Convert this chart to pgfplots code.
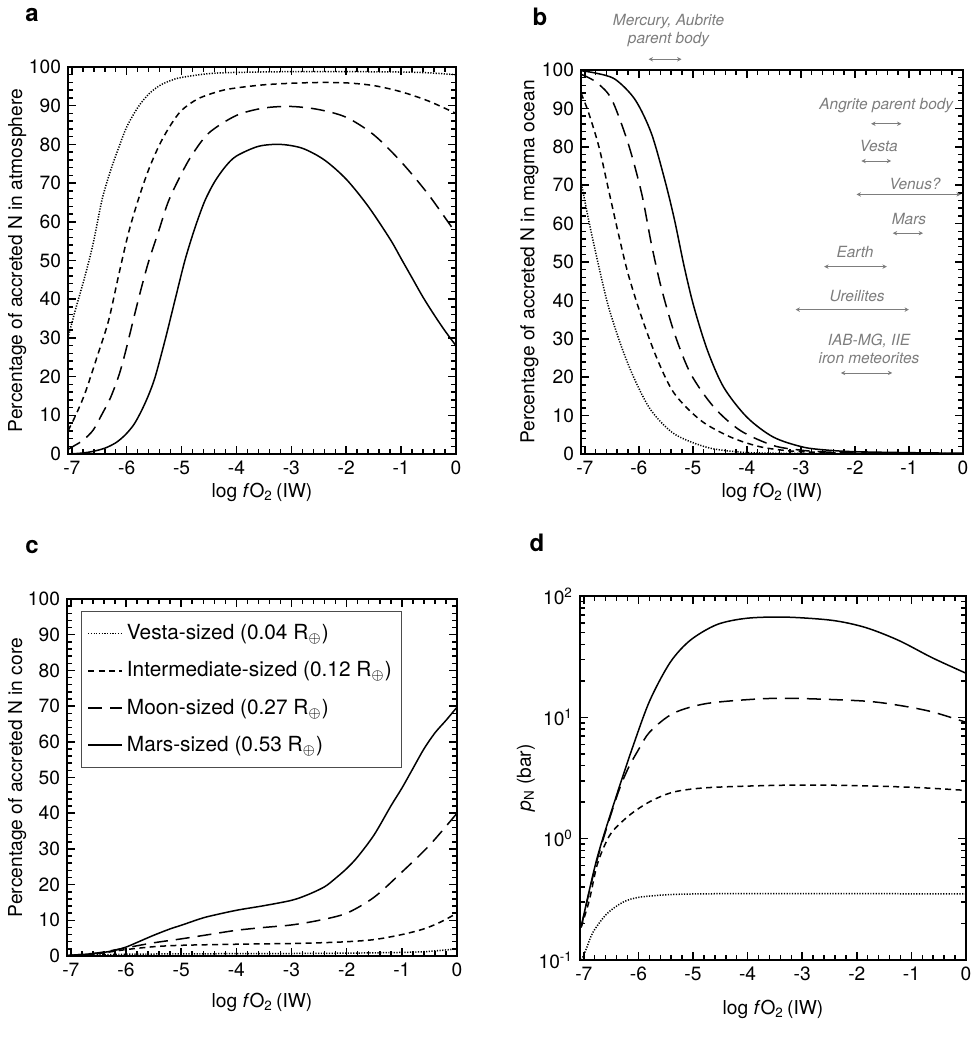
\documentclass[border=0pt]{standalone}
\usepackage{pgfplots}
\pgfplotsset{compat=1.18}
\usepackage{fontspec}
\setmainfont{TeX Gyre Heros}
\usetikzlibrary{arrows.meta}
\definecolor{annot}{RGB}{125,125,125}
\tikzset{
  arr/.style={annot, line width=0.4pt, {Stealth[length=2.2pt,width=2.2pt]}-{Stealth[length=2.2pt,width=2.2pt]}},
  ann/.style={annot, font=\fontsize{7.7}{9}\selectfont\itshape, align=center},
  vesta/.style={dash pattern=on 0.6pt off 0.75pt, line width=0.75pt},
  inter/.style={dash pattern=on 3pt off 2.2pt},
  moon/.style={dash pattern=on 7pt off 4pt},
  mars/.style={solid},
}
\pgfplotsset{
  myax/.style={
    scale only axis,
    axis line style={line width=0.7pt, black},
    tick style={black, line width=0.75pt},
    major tick length=4pt,
    minor tick length=2.4pt,
    xmin=-7.07, xmax=0,
    xtick={-7,-6,-5,-4,-3,-2,-1,0},
    xticklabels={-7,-6,-5,-4,-3,-2,-1,0},
    minor x tick num=4,
    tick label style={font=\fontsize{9.6}{11}\selectfont},
    label style={font=\fontsize{9.6}{11}\selectfont},
    /pgf/number format/assume math mode=true,
    xlabel={log \textit{f}O\textsubscript{2}\,(IW)},
  },
  pct/.style={ymin=0, ymax=100, ytick={0,10,...,100}, minor y tick num=4},
}
\begin{document}
\begin{tikzpicture}
\useasboundingbox (0,0) rectangle (488pt,-525pt);
% ---------------- panel a
\node at (16pt,-7.5pt) {\bfseries\fontsize{12}{14}\selectfont a};
\begin{axis}[myax, pct, at={(34pt,-227pt)}, anchor=south west, width=194pt, height=193.5pt,
  ylabel={Percentage of accreted N in atmosphere},
  ylabel style={at={(axis description cs:-0.131,0.5)}, anchor=center},
  xlabel style={at={(axis description cs:0.5,-0.10)}, anchor=center}]
\addplot[black, line width=0.75pt, vesta, smooth] coordinates {(-7.07,30) (-6.94,37) (-6.76,46) (-6.61,54.5) (-6.45,65.7) (-6.3,73) (-6.15,79) (-6,84.5) (-5.8,89.5) (-5.6,93) (-5.4,95.2) (-5.2,96.5) (-5,97.3) (-4.5,98.3) (-4,98.6) (-3,98.8) (-2,98.8) (-1,98.7) (-0.5,98.5) (0,98)};
\addplot[black, line width=0.75pt, inter, smooth] coordinates {(-7.07,6) (-6.94,9.7) (-6.76,15.7) (-6.52,26) (-6.33,34.5) (-6.15,46) (-5.97,57) (-5.79,65.7) (-5.6,73.5) (-5.4,80) (-5.2,85) (-5,88.8) (-4.7,91.8) (-4.3,93.8) (-4,94.6) (-3.5,95.4) (-3,95.8) (-2.5,96) (-2,95.9) (-1.5,95.2) (-1,93.6) (-0.5,91.2) (0,88)};
\addplot[black, line width=0.75pt, moon, smooth] coordinates {(-7.07,1.2) (-6.9,2.6) (-6.79,3.6) (-6.61,6.2) (-6.45,10.3) (-6.3,14.4) (-6.15,20) (-6.03,26) (-5.79,39.8) (-5.61,49.3) (-5.42,57.5) (-5.24,65.3) (-5,72.5) (-4.8,77.5) (-4.5,83) (-4,87.5) (-3.5,89.4) (-3,89.8) (-2.5,89) (-2,87) (-1.5,82.5) (-1,75.5) (-0.5,67) (0,57)};
\addplot[black, line width=0.75pt, mars, smooth] coordinates {(-7.07,0) (-6.85,0.2) (-6.64,0.6) (-6.4,1.5) (-6.2,2.9) (-6.03,4.9) (-5.87,7.6) (-5.73,11.2) (-5.6,15.3) (-5.48,20) (-5.3,29.5) (-5.12,39.8) (-4.94,50) (-4.76,58.3) (-4.58,65.3) (-4.4,70.3) (-4.2,74.3) (-4,77) (-3.6,79.5) (-3.2,80) (-2.8,79) (-2.4,76) (-2,71) (-1.6,64) (-1.2,55.5) (-1,50.5) (-0.8,45.5) (-0.6,40.5) (-0.4,36) (-0.2,31.8) (0,28)};
\end{axis}
% ---------------- panel b
\node at (270pt,-8.5pt) {\bfseries\fontsize{12}{14}\selectfont b};
\begin{axis}[myax, pct, at={(290.5pt,-227pt)}, anchor=south west, width=191pt, height=192pt, clip=false,
  ylabel={Percentage of accreted N in magma ocean},
  ylabel style={at={(axis description cs:-0.135,0.5)}, anchor=center},
  xlabel style={at={(axis description cs:0.5,-0.10)}, anchor=center}]
\addplot[black, line width=0.75pt, vesta, smooth] coordinates {(-7.07,71) (-6.93,61) (-6.74,48.8) (-6.56,38.3) (-6.32,27.9) (-6.07,19.2) (-5.77,11.3) (-5.34,5.2) (-4.73,1.7) (-4.12,0.5) (-3.5,0.2) (-2,0.05) (0,0.02)};
\addplot[black, line width=0.75pt, inter, smooth] coordinates {(-7.07,94) (-6.93,88.9) (-6.74,80.1) (-6.56,68.8) (-6.38,57.5) (-6.2,47) (-5.95,35.7) (-5.65,24.4) (-5.34,15.7) (-4.85,8.7) (-4.3,4.4) (-3.76,1.9) (-3.2,0.8) (-2.5,0.35) (-1.5,0.15) (0,0.05)};
\addplot[black, line width=0.75pt, moon, smooth] coordinates {(-7.07,98.9) (-6.9,97.8) (-6.74,96.3) (-6.5,92.3) (-6.2,81) (-5.95,68) (-5.77,54.9) (-5.59,43.6) (-5.34,31.4) (-5.04,20.9) (-4.61,12.2) (-4.12,6.1) (-3.51,2.2) (-3,1.0) (-2.5,0.5) (-1.5,0.2) (0,0.08)};
\addplot[black, line width=0.75pt, mars, smooth] coordinates {(-7.07,99.8) (-6.8,99.2) (-6.44,97.6) (-6.07,92.3) (-5.77,83.6) (-5.52,71.4) (-5.34,61) (-5.16,48.8) (-4.98,38.3) (-4.73,27) (-4.43,17.4) (-4,9.6) (-3.51,4.4) (-2.96,1.8) (-2.5,1.0) (-2,0.6) (-1,0.35) (0,0.2)};
% annotations
\node[ann] at (axis cs:-5.45,110.2) {Mercury, Aubrite\\parent body};
\draw[arr] (axis cs:-5.82,102.8) -- (axis cs:-5.21,102.8);
\node[ann] at (axis cs:-1.42,90.8) {Angrite parent body};
\draw[arr] (axis cs:-1.70,86.0) -- (axis cs:-1.14,86.0);
\node[ann] at (axis cs:-1.56,80.1) {Vesta};
\draw[arr] (axis cs:-1.88,76.3) -- (axis cs:-1.33,76.3);
\node[ann] at (axis cs:-0.89,70.4) {Venus?};
\draw[arr] (axis cs:-1.97,67.6) -- (axis cs:-0.04,67.6);
\node[ann] at (axis cs:-1.0,61.2) {Mars};
\draw[arr] (axis cs:-1.30,57.5) -- (axis cs:-0.74,57.5);
\node[ann] at (axis cs:-2.0,52.7) {Earth};
\draw[arr] (axis cs:-2.57,48.8) -- (axis cs:-1.41,48.8);
\node[ann] at (axis cs:-1.96,41.1) {Ureilites};
\draw[arr] (axis cs:-3.10,37.6) -- (axis cs:-1.0,37.6);
\node[ann] at (axis cs:-1.74,27.5) {IAB-MG, IIE\\iron meteorites};
\draw[arr] (axis cs:-2.26,21.1) -- (axis cs:-1.31,21.1);
\end{axis}
% ---------------- panel c
\node at (16pt,-273.5pt) {\bfseries\fontsize{12}{14}\selectfont c};
\begin{axis}[myax, pct, at={(33.5pt,-478pt)}, anchor=south west, width=195pt, height=178.5pt,
  ylabel={Percentage of accreted N in core},
  ylabel style={at={(axis description cs:-0.128,0.5)}, anchor=center},
  xlabel style={at={(axis description cs:0.5,-0.13)}, anchor=center},
  legend style={at={(axis description cs:0.036,0.966)}, anchor=north west, draw=black!70, line width=0.4pt,
    font=\fontsize{10.4}{12}\selectfont, row sep=5.5pt, inner xsep=3pt, inner ysep=4.5pt, cells={anchor=west}},
  legend image code/.code={\draw[#1] (0pt,0pt) -- (17pt,0pt);}]
\addplot[black, line width=0.75pt, vesta, smooth] coordinates {(-7.07,0.05) (-7,0.1) (-6.5,0.3) (-6,0.5) (-5,0.6) (-4,0.65) (-3,0.7) (-2,0.8) (-1,1.0) (-0.5,1.3) (0,2)};
\addlegendentry{Vesta-sized (0.04 R$_{\oplus}$)}
\addplot[black, line width=0.75pt, inter, smooth] coordinates {(-7.07,0.05) (-7,0.1) (-6.5,0.7) (-6,1.8) (-5.5,2.6) (-5,3) (-4,3.3) (-3,3.5) (-2.5,3.7) (-2,4.0) (-1.5,4.6) (-1,6.0) (-0.6,7.6) (-0.3,9.5) (0,12)};
\addlegendentry{Intermediate-sized (0.12 R$_{\oplus}$)}
\addplot[black, line width=0.75pt, moon, smooth] coordinates {(-7.07,0.1) (-7,0.2) (-6.5,0.9) (-6,2.3) (-5.5,3.7) (-5,4.8) (-4.5,6) (-4,7.2) (-3.5,8) (-3,8.7) (-2.5,10) (-2,12) (-1.5,16.5) (-1,23.5) (-0.5,31) (0,40)};
\addlegendentry{Moon-sized (0.27 R$_{\oplus}$)}
\addplot[black, line width=0.75pt, mars, smooth] coordinates {(-7.07,0.1) (-7,0.2) (-6.5,0.8) (-6.2,1.6) (-6,2.5) (-5.8,3.8) (-5.5,5.8) (-5.2,7.6) (-5,8.6) (-4.7,10.2) (-4.5,11.1) (-4,12.8) (-3.5,14.1) (-3,15.6) (-2.7,17.2) (-2.4,19.4) (-2.2,21.8) (-2,24.5) (-1.8,27.8) (-1.5,34) (-1.2,42) (-1,47) (-0.8,52.5) (-0.6,58) (-0.4,62.5) (-0.2,66) (0,69.7)};
\addlegendentry{Mars-sized (0.53 R$_{\oplus}$)}
\end{axis}
% ---------------- panel d
\node at (268.5pt,-271.5pt) {\bfseries\fontsize{12}{14}\selectfont d};
\begin{axis}[myax, at={(290pt,-480pt)}, anchor=south west, width=193pt, height=182pt,
  ymode=log, ymin=0.1, ymax=100, ytick={0.1,1,10,100},
  yticklabels={10\textsuperscript{-1},10\textsuperscript{0},10\textsuperscript{1},10\textsuperscript{2}},
  ylabel={\textit{p}\textsubscript{N} (bar)},
  ylabel style={at={(axis description cs:-0.14,0.5)}, anchor=center},
  xlabel style={at={(axis description cs:0.5,-0.135)}, anchor=center}]
\addplot[black, line width=0.75pt, vesta, smooth] coordinates {(-7.04,0.1) (-6.95,0.125) (-6.83,0.17) (-6.58,0.24) (-6.28,0.3) (-5.97,0.33) (-5.36,0.347) (-4.5,0.352) (-3,0.353) (-1.5,0.352) (0,0.35)};
\addplot[black, line width=0.75pt, inter, smooth] coordinates {(-7.05,0.186) (-6.9,0.31) (-6.76,0.6) (-6.6,0.92) (-6.46,1.17) (-6.15,1.58) (-5.79,2.02) (-5.36,2.42) (-4.75,2.63) (-3.5,2.75) (-2.5,2.76) (-1.5,2.7) (-0.75,2.62) (0,2.5)};
\addplot[black, line width=0.75pt, moon, smooth] coordinates {(-7.05,0.186) (-6.76,0.66) (-6.4,2.2) (-6.2,3.7) (-6.0,5.4) (-5.79,7.6) (-5.36,10.8) (-4.75,13) (-3.77,14.2) (-3.05,14.3) (-1.84,13.6) (-1.2,12.5) (-0.62,11.1) (0,9.1)};
\addplot[black, line width=0.75pt, mars, smooth] coordinates {(-7.05,0.186) (-6.76,0.685) (-6.4,2.28) (-6.09,5.95) (-5.79,13.8) (-5.42,28.3) (-5.05,43.2) (-4.56,58.2) (-4.01,65.6) (-3.3,67) (-2.45,63) (-1.84,55) (-1.23,43) (-0.62,31) (0,23.1)};
\end{axis}
\end{tikzpicture}
\end{document}
